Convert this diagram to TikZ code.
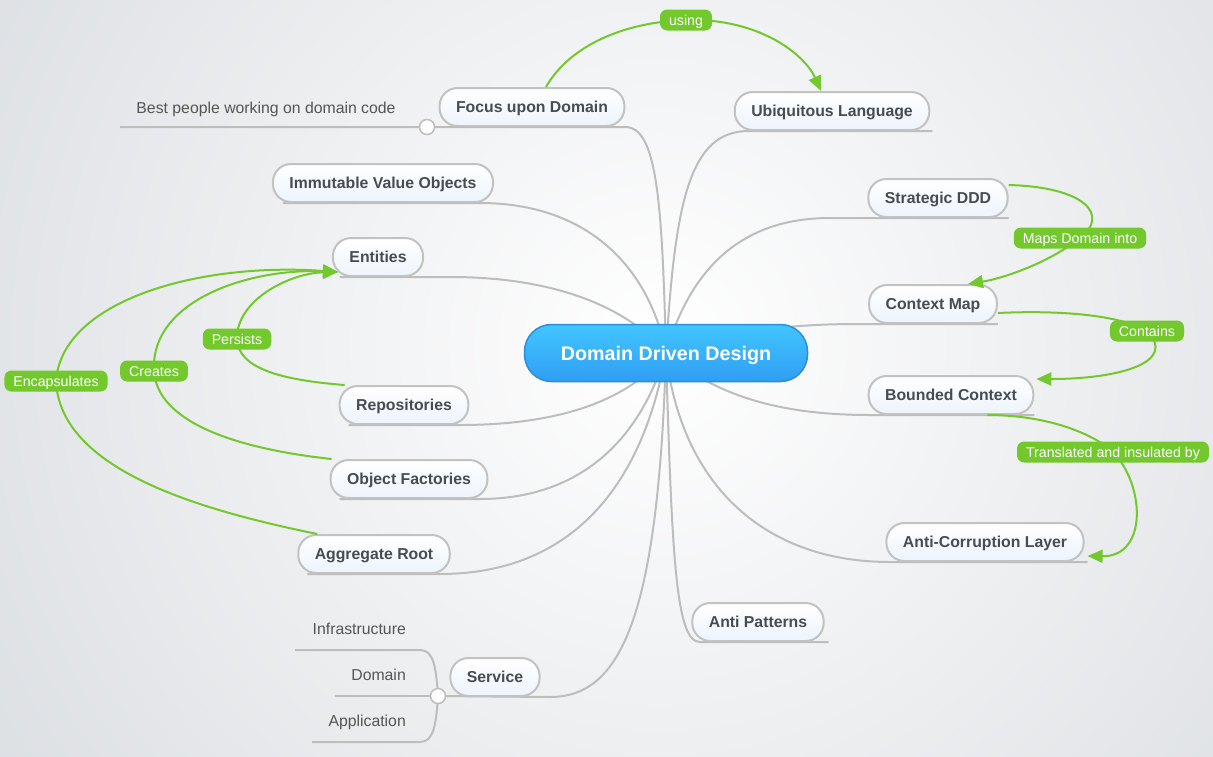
\documentclass[tikz,border=0pt]{standalone}
\usepackage{fontspec}
\setmainfont{Liberation Sans}
\usetikzlibrary{arrows.meta,calc}
\definecolor{bgedge}{HTML}{DBDEE2}
\definecolor{gline}{HTML}{BDBDBD}
\definecolor{nborder}{HTML}{C2C2C2}
\definecolor{ntext}{HTML}{474B52}
\definecolor{nbot}{HTML}{EDF4FC}
\definecolor{grn}{HTML}{72C82C}
\definecolor{ctop}{HTML}{42C6FF}
\definecolor{cbot}{HTML}{2F9EF3}
\definecolor{cborder}{HTML}{2C8DDB}
\definecolor{subtext}{HTML}{555555}
\pgfdeclarelayer{back}
\pgfdeclarelayer{lines}
\pgfdeclarelayer{rels}
\pgfdeclarelayer{labels}
\pgfsetlayers{back,lines,main,rels,labels}
\begin{document}
\begin{tikzpicture}[x=1pt,y=-1pt,
  topic/.style={draw=nborder, line width=2pt, rounded corners=18pt, top color=white, bottom color=nbot, minimum height=38pt, inner xsep=16.5pt, inner ysep=0pt, text height=11.3pt, text depth=0pt, text=ntext, font=\bfseries\fontsize{15.8}{18}\selectfont},
  root/.style={draw=cborder, line width=1.5pt, rounded corners=27pt, top color=ctop, bottom color=cbot, minimum width=283pt, minimum height=57pt, text height=14pt, text depth=0pt, text=white, font=\bfseries\fontsize{19.7}{23}\selectfont},
  conn/.style={draw=gline, line width=2pt},
  rel/.style={draw=grn, line width=2pt},
  relarrow/.style={rel, -{Triangle[length=15pt,width=13pt]}},
  rellabel/.style={fill=grn, text=white, rounded corners=7pt, inner xsep=9pt, inner ysep=0pt, minimum height=21pt, text height=10.2pt, text depth=0pt, font=\fontsize{14.2}{16}\selectfont},
  sub/.style={text=subtext, font=\fontsize{15.8}{18}\selectfont, inner sep=0pt, text height=11.3pt, text depth=0pt},
  dot/.style={circle, draw=gline, fill=white, line width=1.5pt, minimum size=15pt, inner sep=0pt}
]
\useasboundingbox (0,0) rectangle (1213,756);
\begin{pgfonlayer}{back}
\fill[bgedge] (0,0) rectangle (1213,756);
\begin{scope}
\clip (0,0) rectangle (1213,756);
\shade[inner color=white, outer color=bgedge] (660,345) circle (820);
\end{scope}
\end{pgfonlayer}

% topics
\node[root] (center) at (666,353) {Domain Driven Design};
\node[topic] (focus) at (532,107) {Focus upon Domain};
\node[topic] (ubiq) at (832,111) {Ubiquitous Language};
\node[topic] (immut) at (383,183) {Immutable Value Objects};
\node[topic] (strat) at (938,198) {Strategic DDD};
\node[topic] (ent) at (378,257) {Entities};
\node[topic] (cmap) at (933,304) {Context Map};
\node[topic] (repo) at (404,405) {Repositories};
\node[topic] (bctx) at (951,395) {Bounded Context};
\node[topic] (fact) at (409,479) {Object Factories};
\node[topic] (acl) at (985,542) {Anti-Corruption Layer};
\node[topic] (aggr) at (374,554) {Aggregate Root};
\node[topic] (anti) at (758,622) {Anti Patterns};
\node[topic] (serv) at (495,677) {Service};

% sub topics
\node[sub] (best) at (266,108) {Best people working on domain code};
\node[dot] (fdot) at (427,127) {};
\node[dot] (sdot) at (438,696) {};
\node[sub, anchor=east] (infra) at (406,629) {Infrastructure};
\node[sub, anchor=east] (sdom) at (406,675) {Domain};
\node[sub, anchor=east] (sapp) at (406,721) {Application};
\coordinate (bestend) at (120,127);
\coordinate (infraend) at (295,650);
\coordinate (sdomend) at (335,696);
\coordinate (sappend) at (312,742);

% grey connectors
\begin{pgfonlayer}{lines}
\draw[conn] (center.center) .. controls (662,200) and (657,127) .. (625,127) -- (fdot.center) -- (bestend);
\draw[conn] (center.center) .. controls (675,200) and (690,131) .. ($(ubiq.south west)+(15,0)$) -- ($(ubiq.south east)+(2,0)$);
\draw[conn] (center.center) .. controls (650,270) and (590,203) .. (480,203) -- ($(immut.south west)+(11,0)$);
\draw[conn] (center.center) .. controls (630,310) and (560,277) .. (450,277) -- ($(ent.south west)+(8,0)$);
\draw[conn] (center.center) .. controls (690,270) and (740,218) .. (830,218) -- (strat.south east);
\draw[conn] (center.center) .. controls (740,330) and (790,324) .. (860,324) -- (cmap.south east);
\draw[conn] (center.center) .. controls (720,400) and (790,415) .. (870,415) -- (bctx.south east);
\draw[conn] (center.center) .. controls (680,480) and (760,562) .. (890,562) -- ($(acl.south east)+(3,0)$);
\draw[conn] (center.center) .. controls (672,560) and (676,642) .. (700,642) -- ($(anti.south east)+(4,0)$);
\draw[conn] (center.center) .. controls (658,620) and (620,697) .. (550,697) -- (sdot.center);
\draw[conn] (center.center) .. controls (640,500) and (560,574) .. (440,574) -- ($(aggr.south west)+(10,0)$);
\draw[conn] (center.center) .. controls (640,440) and (580,499) .. (480,499) -- ($(fact.south west)+(10,0)$);
\draw[conn] (center.center) .. controls (630,400) and (560,425) .. (460,425) -- ($(repo.south west)+(10,0)$);
\draw[conn] (sdot.center) .. controls (436,665) and (433,650) .. (420,650) -- (infraend);
\draw[conn] (sdot.center) -- (sdomend);
\draw[conn] (sdot.center) .. controls (436,727) and (433,742) .. (420,742) -- (sappend);
\end{pgfonlayer}

% relation labels
\begin{pgfonlayer}{labels}
\node[rellabel] (using) at (686,20) {using};
\node[rellabel] (maps) at (1080,238) {Maps Domain into};
\node[rellabel] (contains) at (1147,331) {Contains};
\node[rellabel] (trans) at (1113,452) {Translated and insulated by};
\node[rellabel] (persists) at (237,339) {Persists};
\node[rellabel] (creates) at (154,371) {Creates};
\node[rellabel] (encaps) at (56,381) {Encapsulates};
\end{pgfonlayer}
\coordinate (enttip) at ($(ent.south west)+(6,-5)$);

% relations
\begin{pgfonlayer}{rels}
\draw[rel] ($(focus.north)+(14,0)$) .. controls (570,45) and (625,22) .. (using.center);
\draw[relarrow] (using.center) .. controls (760,18) and (805,55) .. ($(ubiq.north)+(-11,0)$);
\draw[rel] ($(strat.east)+(0,-13)$) .. controls (1085,187) and (1110,215) .. (maps.center);
\draw[relarrow] (maps.center) .. controls (1050,262) and (1005,278) .. ($(cmap.north)+(35,0)$);
\draw[rel] ($(cmap.east)+(0,9)$) .. controls (1060,310) and (1120,315) .. (contains.center);
\draw[relarrow] (contains.center) .. controls (1178,362) and (1120,379) .. ($(bctx.east)+(2,-16)$);
\draw[rel] ($(bctx.south east)+(-47,0)$) .. controls (1050,415) and (1095,435) .. (trans.center);
\draw[relarrow] (trans.center) .. controls (1145,485) and (1148,557) .. ($(acl.east)+(3,14)$);
\draw[rel] ($(repo.north west)+(6,0)$) .. controls (280,380) and (238,368) .. (persists.center);
\draw[relarrow] (persists.center) .. controls (236,300) and (290,273) .. (enttip);
\draw[rel] ($(fact.north west)+(2,0)$) .. controls (230,448) and (157,420) .. (creates.center);
\draw[relarrow] (creates.center) .. controls (150,300) and (250,268) .. (enttip);
\draw[rel] ($(aggr.north west)+(20,0)$) .. controls (200,510) and (60,470) .. (encaps.center);
\draw[relarrow] (encaps.center) .. controls (62,300) and (200,262) .. (enttip);
\end{pgfonlayer}
\end{tikzpicture}
\end{document}
